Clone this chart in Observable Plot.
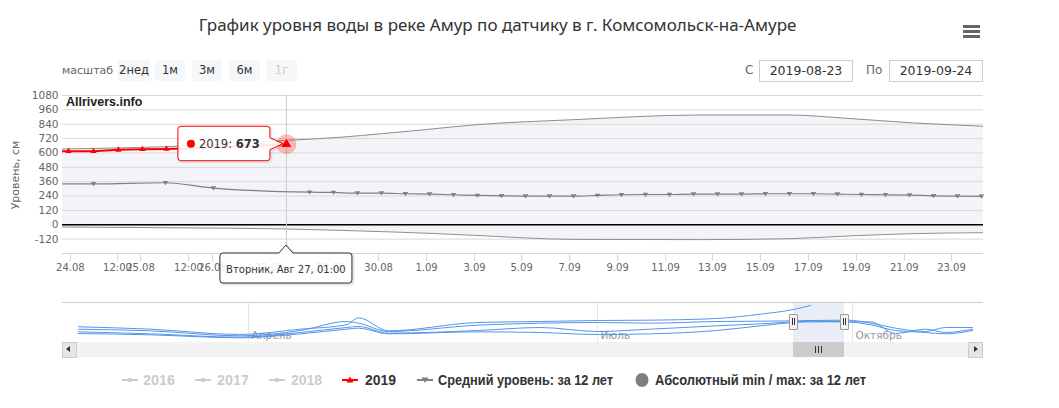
<!DOCTYPE html>
<html><head><meta charset="utf-8">
<script src="https://cdn.jsdelivr.net/npm/d3@7"></script>
<script src="https://cdn.jsdelivr.net/npm/@observablehq/plot@0.6"></script>
<style>
html,body{margin:0;padding:0;background:#fff;}
#root{position:relative;width:1059px;height:408px;overflow:hidden;font-family:"DejaVu Sans",sans-serif;}
.a{position:absolute;white-space:nowrap;}
#title{left:0;width:995px;top:13px;text-align:center;font-family:"Noto Sans",sans-serif;font-size:17px;color:#333;}
.btn{top:60px;height:21px;line-height:21px;background:#f6f7f9;border-radius:2px;text-align:center;font-size:11.5px;color:#333;}
.lbl{top:60px;line-height:21px;font-size:11px;color:#666;}
.inp{top:60px;height:22px;border:1px solid #ccc;box-sizing:border-box;line-height:20px;text-align:center;font-size:12.5px;color:#333;}
.leg{top:371px;font-family:"Liberation Sans",sans-serif;font-weight:bold;font-size:14.5px;line-height:18px;transform-origin:0 50%;}
.bar{left:963px;width:17px;height:3px;background:#666;}
</style></head>
<body><div id="root"></div>
<script>
// ---------- data ----------
const titleText = "График уровня воды в реке Амур по датчику в г. Комсомольск-на-Амуре";
const zoomButtons = ["2нед", "1м", "3м", "6м", "1г"];
const fromDate = "2019-08-23";
const toDate = "2019-09-24";

// ordinal x positions (one unit ~ one day slot on the Highstock ordinal axis)
const xTickPos = [0.33, 2.29, 3.25, 5.25, 6.25, 8.6, 11.15, 13.17, 15.17, 17.17, 19.13, 21.13, 23.13, 25.13, 27.08, 29.08, 31.08, 33.08, 35.08, 37.04];
const xTickLabels = ["24.08", "12:00", "25.08", "12:00", "26.08", "27.08", "28.08", "30.08", "1.09", "3.09", "5.09", "7.09", "9.09", "11.09", "13.09", "15.09", "17.09", "19.09", "21.09", "23.09"];
const yTicks = [-120, 0, 120, 240, 360, 480, 600, 720, 840, 960, 1080];

// 2019 series
const redName = "2019";
const redPos = [-0.75, 0.25, 1.29, 2.33, 3.33, 4.33, 5.33, 6.33, 7.33, 8.33, 9.33];
const redVal = [612, 614, 614, 626, 631, 634, 640, 647, 655, 664, 673];

// mean level over 12 years
const meanPos = [-0.7, 1.29, 4.29, 6.29, 10.29, 11.29, 12.29, 13.29, 14.29, 15.29, 16.29, 17.29, 18.29, 19.29, 20.29, 21.29, 22.29, 23.29, 24.29, 25.29, 26.29, 27.29, 28.29, 29.29, 30.29, 31.29, 32.29, 33.29, 34.29, 35.29, 36.29, 37.29, 38.29, 39.3];
const meanVal = [342, 342, 351, 306, 272, 270, 264, 264, 259, 256, 251, 245, 242, 239, 239, 239, 245, 251, 253, 253, 256, 256, 256, 259, 259, 259, 256, 253, 251, 248, 242, 239, 237, 236];

// absolute min / max
const rangePos = [-0.5, 4.33, 9.33, 11.58, 12.42, 15.13, 17.13, 21.3, 26.58, 30.3, 32.7, 35.46, 38.375];
const hiVal = [632, 653, 705, 731, 745, 795, 834, 878, 917, 917, 889, 851, 823];
const loVal = [-18, -25, -35, -47, -52, -70, -88, -122, -124, -116, -94, -74, -66];

const hoverDate = "Вторник, Авг 27, 01:00";

// navigator (ordinal slots)
const navPos = [1.6, 8.8, 17.7, 23.8, 28.4, 29.6, 32.6, 41.5, 47.8, 53.5, 58.8, 65.4, 69.8, 73.1, 74.8, 78.5, 80.8, 83.3, 86.3, 88.3, 91];
const navA = [271, 200, 40, 200, 330, 541, 150, 400, 430, 460, 470, 520, 650, 790, 910, null, null, null, null, null, null];
const navB = [199, 150, 0, 160, 430, 380, 130, 320, 380, 400, 380, 430, 440, 450, 460, 470, 380, 230, 130, 250, 250];
const navC = [121, 60, -40, 100, 250, 280, 80, 160, 250, 130, 200, 300, 360, 420, 440, 420, 330, 160, 100, 60, 160];
const navD = [70, 30, -59, 60, 200, 230, 60, 120, 100, 40, 60, 160, 300, 400, 420, 420, 420, 70, 200, 100, 200];
const monthPos = [18.6, 53.5, 79.0];
const monthLabels = ["Апрель", "Июль", "Октябрь"];
const navSel = [73.1, 78.2];

const legendNames = ["2016", "2017", "2018", "2019", "Средний уровень: за 12 лет", "Абсолютный min / max: за 12 лет"];

// ---------- build ----------
const root = document.getElementById("root");
const add = h => root.insertAdjacentHTML("beforeend", h);

add(`<div class="a" id="title">${titleText}</div>`);
add(`<div class="a bar" style="top:25px"></div><div class="a bar" style="top:30px"></div><div class="a bar" style="top:35px"></div>`);
add(`<div class="a lbl" style="left:62px">масштаб</div>`);
const btnL = [118, 155, 192, 229, 266], btnW = [32, 30, 30, 31, 31];
zoomButtons.forEach((b, i) => add(`<div class="a btn" style="left:${btnL[i]}px;width:${btnW[i]}px;${i === 4 ? "color:#ccc;" : ""}">${b}</div>`));
add(`<div class="a lbl" style="left:745px;font-size:12px">С</div><div class="a inp" style="left:759px;width:94px">${fromDate}</div>`);
add(`<div class="a lbl" style="left:866px;font-size:12px">По</div><div class="a inp" style="left:889px;width:94px">${toDate}</div>`);

const rows = (pos, val) => pos.map((u, i) => ({u, v: val[i]}));
const red = rows(redPos, redVal);
const mean = rows(meanPos, meanVal);
const range = rangePos.map((u, i) => ({u, hi: hiVal[i], lo: loVal[i]}));
const hover = red[red.length - 1];
const tickMap = new Map(xTickPos.map((p, i) => [p, xTickLabels[i]]));
const xDom = [0, 38.375];

const triDown = {draw(ctx, size) { const a = Math.sqrt(size / Math.PI); ctx.moveTo(0, a * 1.0); ctx.lineTo(a * 1.15, -a * 0.75); ctx.lineTo(-a * 1.15, -a * 0.75); ctx.closePath(); }};
const inDom = d => d.u >= xDom[0] && d.u <= xDom[1];

const main = Plot.plot({
  width: 1059, height: 198,
  marginLeft: 62, marginRight: 76, marginTop: 10, marginBottom: 30,
  x: {domain: xDom, label: null},
  y: {domain: [-240, 1080], label: null},
  style: {fontFamily: "DejaVu Sans", fontSize: "10px", background: "transparent", overflow: "visible"},
  marks: [
    Plot.areaY(range, {x: "u", y1: "lo", y2: "hi", fill: "#f3f4f7", curve: "monotone-x", clip: true}),
    Plot.gridY(yTicks, {stroke: "#d9d9d9", strokeOpacity: 1}),
    Plot.lineY(range, {x: "u", y: "hi", stroke: "#8f8f8f", strokeWidth: 1, curve: "monotone-x", clip: true}),
    Plot.lineY(range, {x: "u", y: "lo", stroke: "#8f8f8f", strokeWidth: 1, curve: "monotone-x", clip: true}),
    Plot.ruleY([0], {stroke: "#000", strokeWidth: 1.6}),
    Plot.ruleX([hover.u], {y1: -240, y2: 1080, stroke: "#cccccc"}),
    Plot.lineY(mean, {x: "u", y: "v", stroke: "#808080", strokeWidth: 1.2, curve: "monotone-x", clip: true}),
    Plot.dot(mean.filter(inDom), {x: "u", y: "v", symbol: triDown, r: 2.4, fill: "#808080", stroke: "none"}),
    Plot.lineY(red, {x: "u", y: "v", stroke: "#ff0000", strokeWidth: 2, clip: true}),
    Plot.dot(red.filter(inDom), {x: "u", y: "v", symbol: "triangle", r: 2.3, fill: "#ff0000", stroke: "none"}),
    Plot.dot([hover], {x: "u", y: "v", r: 10, fill: "#ff0000", fillOpacity: 0.25, stroke: "none"}),
    Plot.dot([hover], {x: "u", y: "v", symbol: "triangle", r: 4.2, fill: "#ff0000", stroke: "#fff", strokeWidth: 0.5}),
    Plot.ruleY([-240], {stroke: "#ccd6eb", strokeWidth: 1}),
    Plot.axisX(xTickPos, {tickFormat: d => tickMap.get(d), tickSize: 8, tickPadding: 2, stroke: "#ccd6eb", fill: "#666", label: null}),
    Plot.axisY(yTicks, {tickFormat: d => String(d), tickSize: 0, tickPadding: 4, fill: "#666", label: null, fontSize: 10.5})
  ]
});
const mainWrap = document.createElement("div");
mainWrap.className = "a"; mainWrap.style.left = "0px"; mainWrap.style.top = "85px";
mainWrap.appendChild(main);
root.appendChild(mainWrap);

add(`<div class="a" style="left:66px;top:95px;font-family:'Liberation Sans',sans-serif;font-weight:bold;font-size:12.5px;color:#222;">Allrivers.info</div>`);
add(`<div class="a" style="left:15px;top:175px;transform:translate(-50%,-50%) rotate(-90deg);font-size:11px;color:#666;">Уровень, см</div>`);

// navigator
const navRows = [];
[navA, navB, navC, navD].forEach((s, k) => navPos.forEach((p, i) => navRows.push({k, p, v: s[i]})));
const nav = Plot.plot({
  width: 1059, height: 50,
  marginLeft: 62, marginRight: 76, marginTop: 10, marginBottom: 0,
  x: {domain: [0, 92.1], axis: null},
  y: {domain: [-200, 1000], axis: null},
  style: {fontFamily: "DejaVu Sans", fontSize: "10.5px", background: "transparent", overflow: "visible"},
  marks: [
    Plot.rect([navSel], {x1: d => d[0], x2: d => d[1], y1: -200, y2: 1000, fill: "rgba(102,133,194,0.15)"}),
    Plot.ruleX(monthPos, {stroke: "#e6e6e6", y1: -200, y2: 1000}),
    Plot.ruleY([1000], {stroke: "#cccccc"}),
    Plot.text(monthPos.map((p, i) => ({p, t: monthLabels[i]})), {x: "p", y: -200, text: "t", textAnchor: "start", dx: 3, dy: -7, fill: "#999"}),
    Plot.lineY(navRows, {x: "p", y: "v", z: "k", stroke: "#4d8fe8", strokeWidth: 1, strokeOpacity: 0.95, curve: "monotone-x"})
  ]
});
const navWrap = document.createElement("div");
navWrap.className = "a"; navWrap.style.left = "0px"; navWrap.style.top = "292px";
navWrap.appendChild(nav);
root.appendChild(navWrap);

const nx = nav.scale("x");
const s0 = nx.apply(navSel[0]), s1 = nx.apply(navSel[1]);
add(`<div class="a" style="left:62px;top:342px;width:921px;height:15px;background:#f2f2f2;"></div>`);
add(`<div class="a" style="left:62px;top:342px;width:13px;height:14px;background:#e6e6e6;border:1px solid #ccc;"></div>`);
add(`<div class="a" style="left:66px;top:346px;width:0;height:0;border-top:3.5px solid transparent;border-bottom:3.5px solid transparent;border-right:4px solid #333;"></div>`);
add(`<div class="a" style="left:968px;top:342px;width:13px;height:14px;background:#e6e6e6;border:1px solid #ccc;"></div>`);
add(`<div class="a" style="left:974px;top:346px;width:0;height:0;border-top:3.5px solid transparent;border-bottom:3.5px solid transparent;border-left:4px solid #333;"></div>`);
add(`<div class="a" style="left:${s0}px;top:342px;width:${s1 - s0}px;height:15px;background:#cccccc;"></div>`);
const mid = (s0 + s1) / 2;
[-3, 0, 3].forEach(o => add(`<div class="a" style="left:${mid + o - 0.5}px;top:346px;width:1px;height:7px;background:#333;"></div>`));
[s0, s1].forEach(s => {
  add(`<div class="a" style="left:${s - 4}px;top:314px;width:7px;height:14px;background:#f2f2f2;border:1px solid #999;border-radius:1px;"></div>`);
  add(`<div class="a" style="left:${s - 1.5}px;top:318px;width:1px;height:7px;background:#333;"></div><div class="a" style="left:${s + 0.5}px;top:318px;width:1px;height:7px;background:#333;"></div>`);
});

// legend
const legX = [{s: 122, t: 143}, {s: 195, t: 217}, {s: 269, t: 291}, {s: 342, t: 365}, {s: 417, t: 438}, {s: 635, t: 655}];
const legW = [32, 32, 31, 31, 175, 211];
const legCol = ["#cccccc", "#cccccc", "#cccccc", "#333333", "#333333", "#333333"];
let legSvg = `<svg class="a" style="left:0;top:370px" width="1059" height="22">`;
[0, 1, 2].forEach(i => { const x = legX[i].s; legSvg += `<line x1="${x}" x2="${x + 16}" y1="10" y2="10" stroke="#cccccc" stroke-width="2"/><circle cx="${x + 8}" cy="10" r="2.2" fill="#cccccc"/>`; });
{ const x = legX[3].s; legSvg += `<line x1="${x}" x2="${x + 16}" y1="10" y2="10" stroke="#ff0000" stroke-width="2"/><path d="M${x + 8},6.5 L${x + 11.5},12.5 L${x + 4.5},12.5 Z" fill="#ff0000"/>`; }
{ const x = legX[4].s; legSvg += `<line x1="${x}" x2="${x + 16}" y1="10" y2="10" stroke="#808080" stroke-width="2"/><path d="M${x + 8},13 L${x + 11.5},7.5 L${x + 4.5},7.5 Z" fill="#808080"/>`; }
{ const x = legX[5].s; legSvg += `<ellipse cx="${x + 7}" cy="10" rx="6.5" ry="7" fill="#7f7f7f"/>`; }
legSvg += `</svg>`;
add(legSvg);
legendNames.forEach((n, i) => {
  const d = document.createElement("div");
  d.className = "a leg"; d.style.left = legX[i].t + "px"; d.style.color = legCol[i]; d.textContent = n;
  root.appendChild(d);
  const w = d.getBoundingClientRect().width;
  if (w > 0) d.style.transform = `scaleX(${legW[i] / w})`;
});

// tooltips overlay
const sx = main.scale("x"), sy = main.scale("y");
const px = sx.apply(hover.u), py = 85 + sy.apply(hover.v);
const yBot = 85 + sy.apply(-240);
const L = px - 108, R = px - 16, T = py - 17.5, B = py + 17, r = 3;
const p1 = `M${L + r},${T} H${R - r} Q${R},${T} ${R},${T + r} V${py - 6} L${px - 3},${py} L${R},${py + 6} V${B - r} Q${R},${B} ${R - r},${B} H${L + r} Q${L},${B} ${L},${B - r} V${T + r} Q${L},${T} ${L + r},${T} Z`;
const L2 = px - 66, R2 = px + 66, T2 = yBot, B2 = yBot + 30;
const p2 = `M${L2 + r},${T2} H${px - 7} L${px},${T2 - 8} L${px + 7},${T2} H${R2 - r} Q${R2},${T2} ${R2},${T2 + r} V${B2 - r} Q${R2},${B2} ${R2 - r},${B2} H${L2 + r} Q${L2},${B2} ${L2},${B2 - r} V${T2 + r} Q${L2},${T2} ${L2 + r},${T2} Z`;
add(`<svg class="a" style="left:0;top:0;pointer-events:none" width="1059" height="408">
<path d="${p1}" transform="translate(1,1)" fill="none" stroke="rgba(0,0,0,0.08)" stroke-width="3"/>
<path d="${p1}" fill="rgba(255,255,255,0.9)" stroke="#ff0000" stroke-width="1"/>
<circle cx="${L + 13}" cy="${py}" r="4" fill="#ff0000"/>
<text x="${L + 21}" y="${py + 4.5}" font-family="DejaVu Sans" font-size="11.5" fill="#333">${redName}: <tspan font-weight="bold">${hover.v}</tspan></text>
<path d="${p2}" transform="translate(1,1)" fill="none" stroke="rgba(0,0,0,0.1)" stroke-width="3"/>
<path d="${p2}" fill="rgba(255,255,255,0.88)" stroke="#333" stroke-width="1"/>
<text x="${px}" y="${T2 + 19.5}" text-anchor="middle" font-family="DejaVu Sans" font-size="10" fill="#333">${hoverDate}</text>
</svg>`);
</script>
</body></html>
